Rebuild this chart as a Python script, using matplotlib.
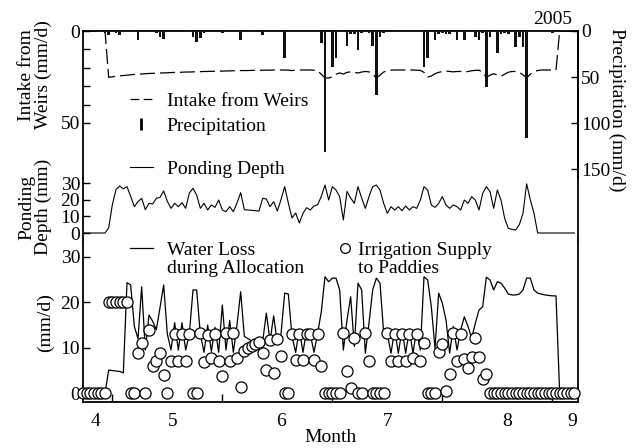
import matplotlib
matplotlib.use('Agg')
import matplotlib.pyplot as plt
from matplotlib.lines import Line2D
from matplotlib.legend import Legend

plt.rcParams['font.family'] = ['Liberation Serif', 'DejaVu Serif']
plt.rcParams['font.size'] = 14

# daily series, day 0 = first day on the axis
intake = [0, 0, 0, 0, 0, 0, 0, 25.2, 24.9, 24.6,
          24.4, 24.2, 24.0, 23.8, 23.6, 23.5, 23.4, 23.2, 23.1, 23.0,
          22.9, 22.8, 22.8, 22.7, 22.6, 22.5, 22.5, 22.4, 22.3, 22.3,
          22.2, 22.2, 22.1, 22.0, 22.0, 21.9, 21.9, 21.8, 21.8, 21.7,
          21.7, 21.6, 21.6, 21.5, 21.5, 21.5, 21.4, 21.4, 21.4, 21.3,
          21.3, 21.3, 21.2, 21.2, 21.2, 21.2, 21.3, 21.5, 21.3, 21.2,
          21.2, 21.2, 21.2, 21.3, 21.6, 23.6, 25.4, 25.6, 24.8, 23.5,
          22.8, 23.4, 22.5, 22.2, 22.6, 22.8, 22.3, 22.0, 22.2, 23.5,
          25.5, 24.0, 22.3, 21.6, 21.3, 21.2, 21.2, 21.2, 21.2, 21.2,
          21.2, 21.3, 21.4, 22.5, 25.0, 24.5, 23.2, 22.5, 22.0, 21.8,
          22.0, 22.2, 22.0, 22.0, 22.3, 22.0, 21.6, 21.4, 21.3, 22.5,
          25.3, 24.0, 23.2, 24.0, 24.5, 23.5, 22.4, 22.0, 22.0, 22.5,
          23.8, 25.5, 23.5, 22.2, 21.5, 21.2, 21.2, 21.2, 21.2, 21.2,
          0, 0, 0, 0, 0]

precip = [0, 0, 0, 0, 0, 0, 2.5, 4.3, 0, 2.5,
          4.3, 0, 0, 0, 0, 9.8, 1.5, 1.5, 1.2, 1.2,
          2.5, 6.2, 9.1, 1.0, 0, 1.0, 1.0, 0, 0, 0,
          6.2, 11.6, 8.0, 2.0, 1.5, 1.0, 0, 1.5, 2.5, 0,
          0, 0, 0, 9.8, 0, 0, 0, 0, 0, 4.3,
          0, 0, 0, 0, 0, 29.7, 0, 0, 0, 0,
          0, 0, 0, 0, 0, 13.4, 131.0, 0, 38.8, 29.7,
          0, 0, 16.0, 3.0, 3.0, 20.7, 2.5, 0, 2.0, 16.0,
          69.6, 6.0, 2.0, 0, 1.5, 0, 0, 0, 0, 0,
          0, 0, 0, 38.8, 29.7, 0, 9.8, 3.0, 2.5, 3.0,
          3.0, 0, 9.8, 0, 9.8, 0, 0, 6.2, 9.8, 2.0,
          60.5, 6.0, 0, 24.3, 3.0, 2.0, 3.0, 0, 17.0, 6.0,
          17.0, 116.0, 0, 0, 0, 0, 0, 0, 2.5, 0,
          0, 0, 0, 0, 0]

ponding = [0, 0, 0, 0, 0, 0, 0, 3, 17, 26,
           28.2, 26.5, 27.8, 22, 15.8, 18.8, 20.8, 14, 17.8, 17.4,
           20.8, 21.4, 25.2, 19, 14.8, 17.8, 15.8, 18.2, 14.8, 24,
           26.8, 22.8, 14.8, 17.8, 13.8, 16.8, 15.4, 19.8, 13.8, 12.8,
           15.8, 12.8, 18, 24.2, 14, 13.8, 13.6, 13.4, 13.2, 20.8,
           20.4, 15.8, 18.8, 13.2, 20, 27.8, 18, 9, 12, 6,
           11.8, 15.2, 13.8, 16.2, 17, 22, 28.8, 19.8, 27.8, 25.8,
           21.8, 7.8, 25, 21, 17.8, 27.8, 21, 14.8, 21.8, 27.8,
           28.8, 25.8, 17.8, 11.8, 15.8, 13.8, 15.8, 13.4, 16.2, 13.8,
           15.8, 14.8, 19.8, 27.8, 25.8, 16.8, 15.4, 17.8, 21.8, 16.8,
           14.8, 16.8, 15.8, 13.8, 19.8, 17.8, 21.8, 19.8, 13.8, 23.8,
           27.8, 24.8, 14.8, 25.8, 19.8, 8.8, 2.8, 2.2, 1.8, 5,
           11.8, 29.5, 19.8, 11.8, 0, 0, 0, 0, 0, 0,
           0, 0, 0, 0, 0]

water_loss = [0, 0, 0, 0, 0, 0, 0, 5.1, 5.0, 4.9,
              4.8, 4.5, 24.3, 23.8, 14.7, 12.0, 23.4, 9.5, 17.2, 15.8,
              14.0, 18.8, 23.8, 13.0, 9.5, 15.5, 9.5, 15.5, 9.5, 13.0,
              22.7, 22.7, 13.0, 9.0, 15.0, 9.2, 14.5, 9.0, 19.4, 9.5,
              16.0, 9.0, 15.0, 22.3, 12.5, 12.0, 11.5, 11.2, 11.0, 11.4,
              17.6, 11.5, 17.0, 11.0, 13.0, 22.0, 21.8, 12.5, 9.0, 14.0,
              9.0, 14.0, 13.0, 9.0, 13.2, 18.0, 25.6, 24.5, 25.3, 25.3,
              22.7, 9.5, 16.1, 21.2, 10.3, 24.2, 22.7, 8.8, 15.4, 22.7,
              25.3, 24.2, 13.2, 13.0, 8.8, 14.0, 8.8, 14.0, 8.8, 14.0,
              8.8, 14.0, 9.5, 25.6, 24.9, 19.0, 9.9, 22.0, 19.8, 16.1,
              8.8, 14.7, 9.5, 13.9, 16.8, 14.7, 12.1, 15.4, 18.3, 19.0,
              25.5, 24.9, 22.7, 24.5, 24.2, 23.1, 21.8, 21.6, 21.6, 21.8,
              22.7, 25.3, 25.3, 22.7, 22.0, 21.8, 21.6, 21.5, 21.4, 21.4,
              0, 0, 0, 0, 0]

supply = [0, 0, 0, 0, 0, 0, 0, 20, 20, 20,
          20, 20, 20, 0, 0, 8.9, 11.1, 0, 13.9, 6.0,
          7.0, 8.9, 4.0, 0, 7.2, 13.0, 7.2, 13.0, 7.2, 13.0,
          0, 0, 13.3, 6.8, 12.8, 7.7, 13.0, 7.1, 3.7, 13.3,
          7.1, 13.3, 7.7, 1.4, 9.2, 9.9, 10.4, 10.8, 11.2, 8.9,
          5.2, 11.7, 4.5, 11.9, 8.1, 0, 0, 13.0, 7.3, 13.0,
          7.3, 13.0, 13.0, 7.3, 13.0, 6.0, 0, 0, 0, 0,
          0, 13.2, 4.9, 1.1, 12.1, 0, 0, 13.2, 7.1, 0,
          0, 0, 0, 13.2, 7.1, 13.0, 7.1, 13.0, 7.1, 13.0,
          7.7, 13.0, 7.2, 11.0, 0, 0, 0, 9.1, 10.8, 0.4,
          4.2, 13.2, 7.1, 13.0, 7.5, 5.6, 7.9, 12.1, 8.0, 3.1,
          4.2, 0, 0, 0, 0, 0, 0, 0, 0, 0,
          0, 0, 0, 0, 0, 0, 0, 0, 0, 0,
          0, 0, 0, 0, 0]

days = list(range(len(supply)))

month_labels = ['4', '5', '6', '7', '8', '9']
month_label_pos = [3.3, 24.5, 54.0, 83.0, 115.7, 133.5]
month_ticks = [8, 38, 68, 98, 128]

W, H = 634, 448
fig = plt.figure(figsize=(W / 100, H / 100), dpi=100)


def box(top, bottom):
    return [83 / W, 1 - bottom / H, (578 - 83) / W, (bottom - top) / H]


ax_top = fig.add_axes(box(31, 178))
ax_mid = fig.add_axes(box(178, 240))
ax_bot = fig.add_axes(box(240, 402))
ax_pr = ax_top.twinx()

for ax in (ax_top, ax_mid, ax_bot, ax_pr):
    ax.patch.set_visible(False)
    ax.set_xlim(0, 135)
    for s in ax.spines.values():
        s.set_linewidth(1.3)
    ax.tick_params(direction='in', length=5, width=1, labelsize=14, pad=2)

# top: intake (left, inverted) + precipitation bars (right, inverted)
ax_top.plot(days, intake, color='k', lw=0.9, ls=(0, (12, 4)))
ax_top.set_ylim(79.9, 0)
ax_top.set_yticks([0, 50])
ax_top.set_yticks([10, 20, 30, 40], minor=True)
ax_top.tick_params(axis='y', which='minor', direction='in', length=5, width=1)
ax_top.set_xticks([])
ax_top.spines['bottom'].set_visible(False)

ax_pr.bar(days, precip, width=0.65, color='#111111')
ax_pr.set_ylim(159.6, 0)
ax_pr.set_yticks([0, 50, 100, 150])
ax_pr.set_xticks([])
for side in ('left', 'top', 'bottom'):
    ax_pr.spines[side].set_visible(False)

# middle: ponding depth
ax_mid.plot(days, ponding, color='k', lw=0.8)
ax_mid.set_ylim(-4.2, 33)
ax_mid.set_yticks([0, 10, 20, 30])
ax_mid.set_xticks([])
ax_mid.spines['top'].set_visible(False)
ax_mid.spines['bottom'].set_visible(False)

# bottom: water loss + irrigation supply
ax_bot.plot(days, water_loss, color='k', lw=0.9, zorder=2)
ax_bot.plot(days, supply, ls='none', marker='o', ms=8, mfc='white', mec='k',
            mew=0.9, clip_on=False, zorder=3)
ax_bot.set_ylim(-1.91, 33.67)
ax_bot.set_yticks([0, 10, 20, 30])
ax_bot.spines['top'].set_visible(False)
ax_bot.set_xticks(month_ticks)
ax_bot.set_xticklabels([])
ax_bot.set_xticks(month_label_pos, minor=True)
ax_bot.set_xticklabels(month_labels, minor=True)
ax_bot.tick_params(axis='x', which='major', length=6, width=1)
ax_bot.tick_params(axis='x', which='minor', length=0, pad=8)

# axis titles
fig.text(35 / W, 1 - 75 / H, 'Intake from\nWeirs (mm/d)', rotation=90,
         ha='center', va='center', multialignment='center', linespacing=0.95)
fig.text(35 / W, 1 - 207 / H, 'Ponding\nDepth (mm)', rotation=90,
         ha='center', va='center', multialignment='center', linespacing=0.95)
fig.text(45 / W, 1 - 323 / H, '(mm/d)', rotation=90, ha='center', va='center')
fig.text(617 / W, 1 - 110 / H, 'Precipitation (mm/d)', rotation=270,
         ha='center', va='center')
fig.text(572 / W, 1 - 20 / H, '2005', ha='right', va='center')
fig.text(331 / W, 1 - 437 / H, 'Month', ha='center', va='center')


def add_legend(ax, handles, labels, x_px, y_px, hl, htp, sp):
    leg = Legend(ax, handles, labels, loc='upper left',
                 bbox_to_anchor=(x_px / W, 1 - y_px / H),
                 bbox_transform=fig.transFigure, frameon=False,
                 borderpad=0, borderaxespad=0, handlelength=hl,
                 handletextpad=htp, labelspacing=sp, fontsize=14)
    ax.add_artist(leg)


blank = Line2D([], [], ls='none')
add_legend(ax_pr,
           [Line2D([], [], color='k', lw=0.9, ls=(0, (7, 3.5))),
            Line2D([], [], ls='none', marker='|', ms=9, mew=2, color='k')],
           ['Intake from Weirs', 'Precipitation'], 130, 92, 1.18, 0.7, 0.38)
add_legend(ax_pr, [Line2D([], [], color='k', lw=0.8)], ['Ponding Depth'],
           130, 160, 1.18, 0.7, 0.18)
add_legend(ax_bot, [Line2D([], [], color='k', lw=0.9), blank],
           ['Water Loss', 'during Allocation'], 130, 241, 1.18, 0.7, 0.02)
add_legend(ax_bot, [Line2D([], [], ls='none', marker='o', ms=7, mfc='white',
                           mec='k', mew=0.9), blank],
           ['Irrigation Supply', 'to Paddies'], 339, 241, 0.62, 0.36, 0.02)

fig.savefig('out.png', dpi=100)
